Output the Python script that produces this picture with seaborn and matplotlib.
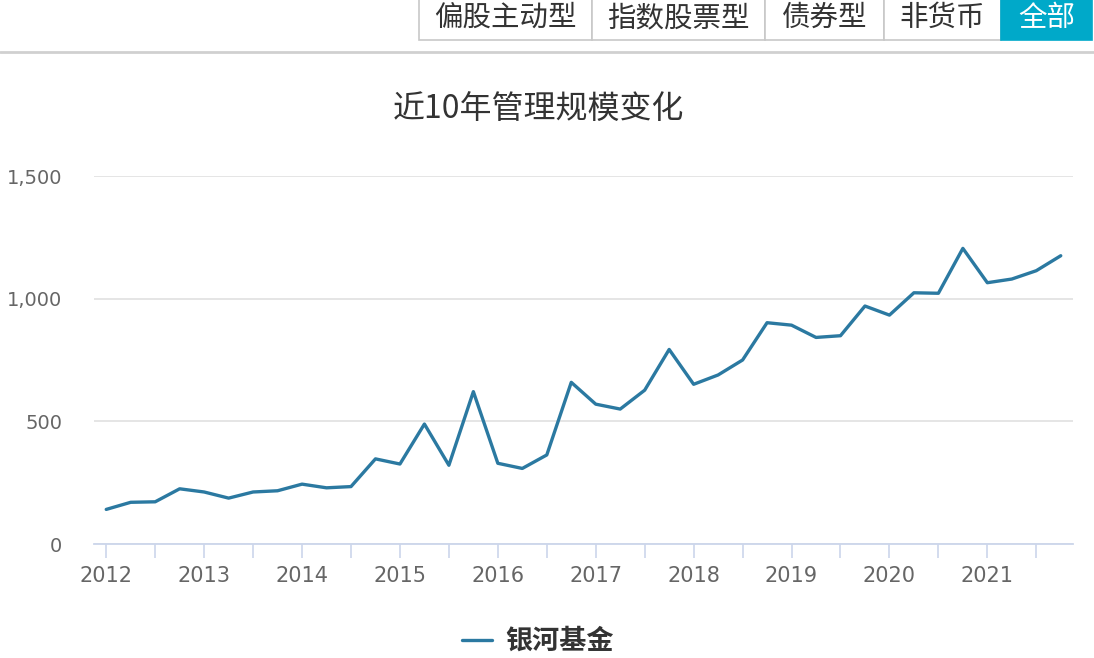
import numpy as np
import pandas as pd
import matplotlib
matplotlib.use("Agg")
import matplotlib.pyplot as plt
from matplotlib.patches import Rectangle
from matplotlib.lines import Line2D
import seaborn as sns

# ---------------------------------------------------------------
# Data (quarterly fund size)
# ---------------------------------------------------------------
YEARS = [str(y) for y in range(2012, 2022)]
QUARTERS = [f"{y}Q{q}" for y in YEARS for q in range(1, 5)]
SIZE = [141, 170, 172, 225, 212, 187, 212, 217, 244, 229,
        234, 347, 326, 489, 321, 621, 329, 308, 363, 659,
        570, 550, 627, 793, 651, 689, 750, 902, 892, 842,
        849, 970, 933, 1024, 1022, 1205, 1065, 1080, 1114, 1175]
SERIES_NAME = "银河基金"
TITLE = "近10年管理规模变化"
Y_TICKS = [0, 500, 1000, 1500]
TABS = ["偏股主动型", "指数股票型", "债券型", "非货币", "全部"]

LINE_COLOR = "#2b79a1"
TAB_ACTIVE = "#00a9c9"

sns.set_theme(style="white")
plt.rcParams["font.family"] = ["Noto Sans CJK SC", "DejaVu Sans"]

W, H = 1094, 658
fig = plt.figure(figsize=(W / 100, H / 100), dpi=100)


def fx(px):
    return px / W


def fy(py):
    return 1 - py / H


ax = fig.add_axes([fx(94), fy(544), fx(1073) - fx(94), fy(176) - fy(544)])

df = pd.DataFrame({"idx": np.arange(len(QUARTERS)), "quarter": QUARTERS, "size": SIZE})
sns.lineplot(data=df, x="idx", y="size", ax=ax, color=LINE_COLOR, linewidth=2.4,
             label=SERIES_NAME, legend=False)

ax.set_xlim(-0.5, len(QUARTERS) - 0.5)
ax.set_ylim(0, 1500)
ax.set_xlabel("")
ax.set_ylabel("")

# y axis: light grid, no spine
ax.set_yticks(Y_TICKS)
ax.set_yticklabels([f"{v:,}" for v in Y_TICKS], fontfamily="DejaVu Sans", fontsize=14,
                   color="#666666")
ax.yaxis.grid(True, color="#e3e3e3", linewidth=1.3)
ax.tick_params(axis="y", length=0, pad=23)

# x axis: ticks every half year, labels every year
ax.set_xticks(np.arange(0, len(QUARTERS), 4), minor=False)
ax.set_xticks(np.arange(2, len(QUARTERS), 4), minor=True)
ax.set_xticklabels(YEARS, fontfamily="DejaVu Sans", fontsize=15, color="#666666")
ax.tick_params(axis="x", which="both", length=10, width=1.2, color="#ccd6eb",
               direction="out", pad=6, bottom=True)
for s in ["top", "right", "left"]:
    ax.spines[s].set_visible(False)
ax.spines["bottom"].set_color("#ccd6eb")
ax.spines["bottom"].set_linewidth(1.3)

# title
fig.text(fx(539), fy(110), TITLE, ha="center", va="center", fontsize=23, color="#333333")

# legend at bottom
handle = Line2D([], [], color=LINE_COLOR, linewidth=2.4)
fig.legend([handle], [SERIES_NAME], loc="center", bbox_to_anchor=(fx(538), fy(641)),
           frameon=False, handlelength=1.1, handletextpad=0.5,
           prop={"family": "Noto Sans CJK SC", "weight": "bold", "size": 19.5},
           labelcolor="#333333")

# tab bar on top
edges = [419, 592, 765, 884, 1001, 1092]
for i, name in enumerate(TABS):
    x0, x1 = edges[i], edges[i + 1]
    active = i == len(TABS) - 1
    rect = Rectangle((fx(x0), fy(40)), fx(x1 - x0), fy(0) - fy(40) + 0.01,
                     transform=fig.transFigure,
                     facecolor=TAB_ACTIVE if active else "white",
                     edgecolor=TAB_ACTIVE if active else "#c8c8c8", linewidth=1.2)
    fig.patches.append(rect)
    fig.text(fx((x0 + x1) / 2), fy(18), name, ha="center", va="center", fontsize=20.5,
             color="white" if active else "#333333")

fig.add_artist(Line2D([0, 1], [fy(51.5), fy(51.5)], transform=fig.transFigure,
                      color="#d0d0d0", linewidth=2))

fig.savefig("out.png", dpi=100)
